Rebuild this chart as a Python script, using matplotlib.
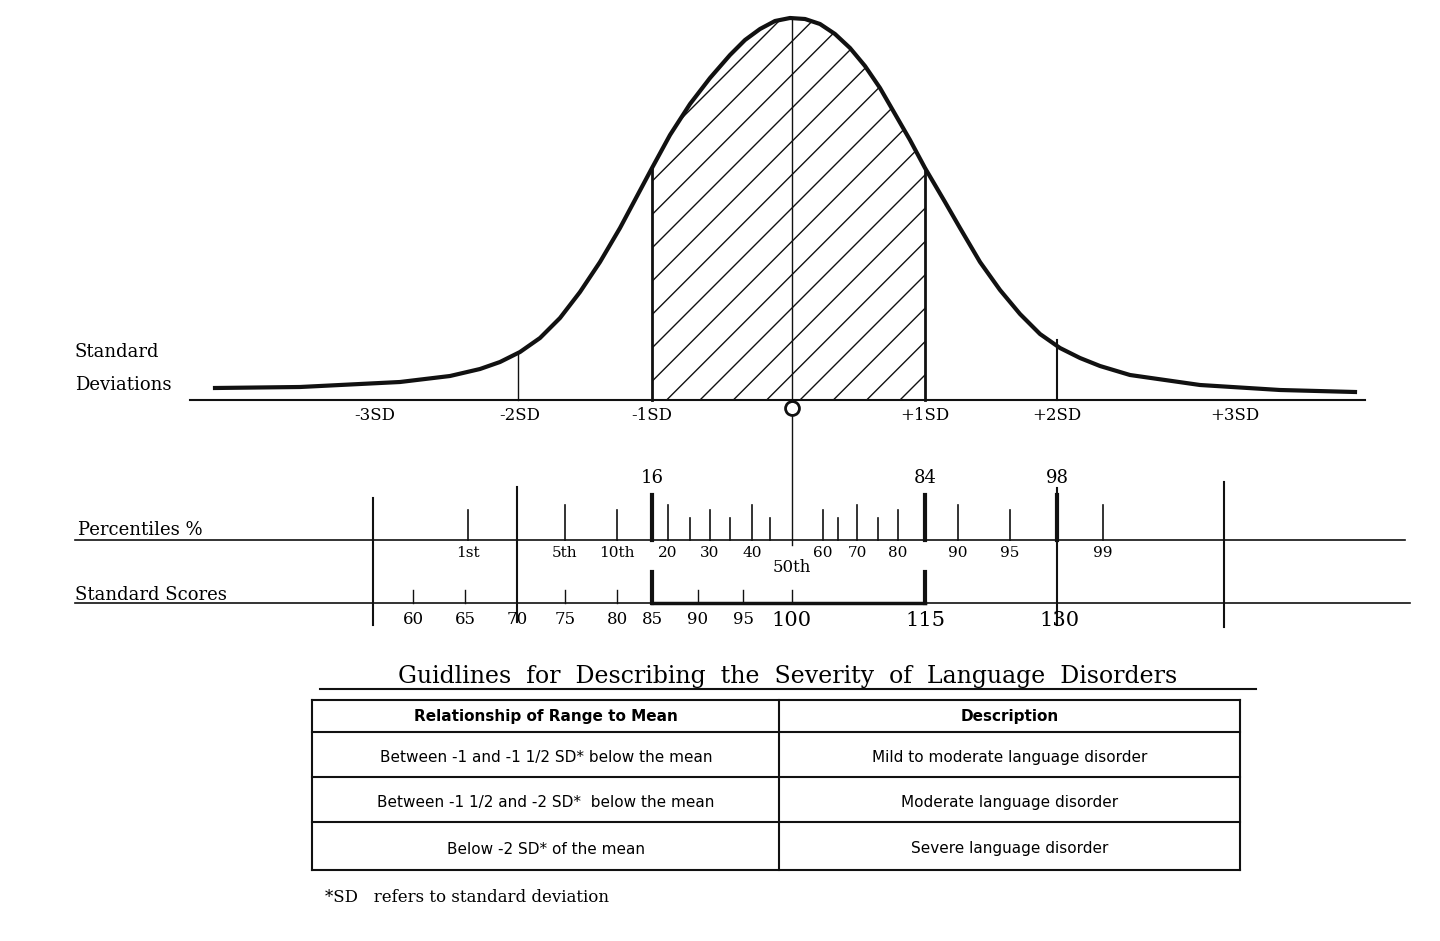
import numpy as np
import matplotlib.pyplot as plt

# curve points (pixel x, pixel y)
curve_x = [215, 300, 400, 450, 480, 500, 520, 540, 560, 580, 600, 620, 636, 652, 670, 690,
           710, 730, 745, 760, 775, 790, 805, 820, 835, 850, 865, 880, 895, 910, 925,
           945, 960, 980, 1000, 1020, 1040, 1060, 1080, 1100, 1130, 1200, 1280, 1355]
curve_y = [388, 387, 382, 376, 369, 362, 352, 338, 318, 292, 262, 228, 198, 168, 135, 104,
           78, 55, 40, 29, 21, 18, 19, 24, 34, 48, 66, 88, 114, 140, 168,
           202, 228, 262, 290, 314, 334, 348, 358, 366, 375, 385, 390, 392]

sd_labels = ["-3SD", "-2SD", "-1SD", "+1SD", "+2SD", "+3SD"]
sd_x = [375, 520, 652, 925, 1057, 1235]

pct_labels = ["1st", "5th", "10th", "20", "30", "40", "60", "70", "80", "90", "95", "99"]
pct_x = [468, 565, 617, 668, 710, 752, 823, 857, 898, 958, 1010, 1103]
pct_minor_x = [690, 730, 770, 838, 878]
pct_major = ["16", "84", "98"]
pct_major_x = [652, 925, 1057]

score_labels = ["60", "65", "70", "75", "80", "85", "90", "95", "100", "115", "130"]
score_x = [413, 465, 517, 565, 617, 652, 698, 743, 792, 925, 1060]

table_rows = [
    ["Relationship of Range to Mean", "Description"],
    ["Between -1 and -1 1/2 SD* below the mean", "Mild to moderate language disorder"],
    ["Between -1 1/2 and -2 SD*  below the mean", "Moderate language disorder"],
    ["Below -2 SD* of the mean", "Severe language disorder"],
]

plt.rcParams["hatch.linewidth"] = 1.0
fig = plt.figure(figsize=(14.4, 9.41), dpi=100)
ax = fig.add_axes([0, 0, 1, 1])
ax.set_xlim(0, 1440)
ax.set_ylim(941, 0)
ax.axis("off")
k = "#111111"
serif = "DejaVu Serif"

# curve
ax.plot(curve_x, curve_y, color=k, lw=3, solid_joinstyle="round")
xs = np.linspace(652, 925, 200)
ax.fill_between(xs, np.interp(xs, curve_x, curve_y), 400, facecolor="none",
                edgecolor=k, hatch="/", lw=0)
ax.plot([652, 652], [168, 400], color=k, lw=2)
ax.plot([925, 925], [168, 400], color=k, lw=2)
ax.plot([792, 792], [18, 545], color=k, lw=1)
ax.plot([518, 518], [352, 400], color=k, lw=1)
ax.plot([1057, 1057], [340, 400], color=k, lw=1.5)
ax.plot([190, 1365], [400, 400], color=k, lw=1.5)
ax.text(75, 352, "Standard", fontsize=13, family=serif, va="center")
ax.text(75, 385, "Deviations", fontsize=13, family=serif, va="center")
for lab, x in zip(sd_labels, sd_x):
    ax.text(x, 416, lab, fontsize=12, family=serif, ha="center", va="center")
ax.plot(792, 408, "o", mfc="white", mec=k, ms=10, mew=2)

# percentiles
ax.plot([75, 1405], [540, 540], color=k, lw=1.2)
ax.text(78, 530, "Percentiles %", fontsize=13, family=serif, va="center")
for x, top, bot in [(373, 498, 625), (517, 487, 622), (1224, 482, 627), (1057, 488, 625)]:
    ax.plot([x, x], [top, bot], color=k, lw=1.5)
for lab, x in zip(pct_major, pct_major_x):
    ax.plot([x, x], [495, 540], color=k, lw=3)
    ax.text(x, 478, lab, fontsize=13, family=serif, ha="center", va="center")
for i, (lab, x) in enumerate(zip(pct_labels, pct_x)):
    ax.plot([x, x], [510 - 5 * (i % 2), 540], color=k, lw=1.2)
    ax.text(x, 553, lab, fontsize=11, family=serif, ha="center", va="center")
for x in pct_minor_x:
    ax.plot([x, x], [518, 540], color=k, lw=1.2)
ax.text(792, 568, "50th", fontsize=12, family=serif, ha="center", va="center")

# standard scores
ax.plot([75, 1410], [603, 603], color=k, lw=1.2)
ax.plot([652, 925], [603, 603], color=k, lw=2.5)
ax.text(75, 595, "Standard Scores", fontsize=13, family=serif, va="center")
for x in [652, 925]:
    ax.plot([x, x], [572, 603], color=k, lw=3)
for lab, x in zip(score_labels, score_x):
    if x not in (517, 652, 925, 1060):
        ax.plot([x, x], [590, 603], color=k, lw=1)
    big = lab in ("100", "115", "130")
    ax.text(x, 620, lab, fontsize=15 if big else 12, family=serif,
            ha="center", va="center")

# title and table
ax.text(788, 676, "Guidlines  for  Describing  the  Severity  of  Language  Disorders",
        fontsize=17, family=serif, ha="center", va="center")
ax.plot([320, 1256], [689, 689], color=k, lw=1.5)
row_y = [700, 732, 777, 822, 870]
for y in row_y:
    ax.plot([312, 1240], [y, y], color=k, lw=1.5)
for x in [312, 779, 1240]:
    ax.plot([x, x], [700, 870], color=k, lw=1.5)
for i, row in enumerate(table_rows):
    yc = (row_y[i] + row_y[i + 1]) / 2 + (3 if i else 0)
    ax.text(546, yc, row[0], fontsize=11, ha="center", va="center",
            weight="bold" if i == 0 else "normal")
    ax.text(1010, yc, row[1], fontsize=11, ha="center", va="center",
            weight="bold" if i == 0 else "normal")
ax.text(325, 897, "*SD   refers to standard deviation", fontsize=12,
        family=serif, va="center")

fig.savefig("out.png")
